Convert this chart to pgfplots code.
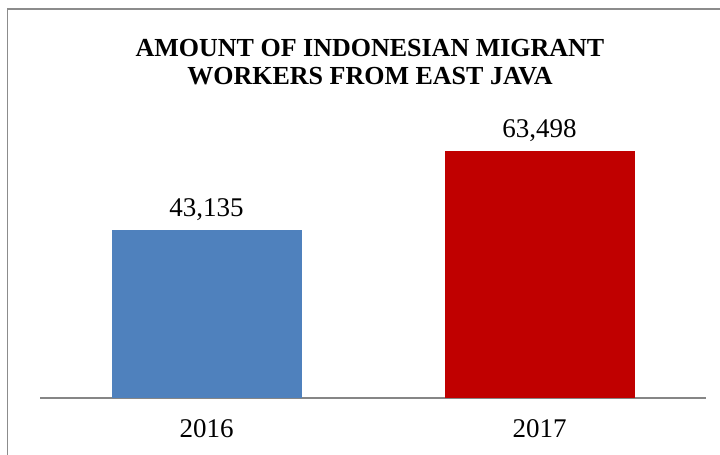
\documentclass[border=0pt]{standalone}
\usepackage{pgfplots}
\pgfplotsset{compat=1.18}
\usepackage{fontspec}
\setmainfont{Liberation Serif}
\newfontfamily\titlefont{Liberation Serif}[UprightFont={* Bold}]
\definecolor{barblue}{HTML}{4F81BD}
\definecolor{barred}{HTML}{C00000}
\definecolor{framegray}{HTML}{8C8C8C}
\definecolor{axisgray}{HTML}{868686}
\begin{document}
\begin{tikzpicture}[x=1pt,y=1pt]
\useasboundingbox (0,0) rectangle (720,455);
\clip (0,0) rectangle (720,455);
\fill[white] (0,0) rectangle (720,455);
% chart frame, cut off on the right and at the bottom
\draw[framegray, line width=1.6pt] (7.5,-20) -- (7.5,446) -- (740,446);
\begin{axis}[
    at={(40pt,57pt)}, anchor=south west,
    scale only axis,
    width=666pt, height=311pt,
    xmin=-0.5, xmax=1.5,
    ymin=0, ymax=80000,
    axis x line*=bottom,
    axis y line=none,
    x axis line style={axisgray, line width=1.5pt, -},
    xtick={0,1},
    xticklabels={2016,2017},
    major tick length=0pt,
    xticklabel style={font=\fontsize{27}{30}\selectfont, yshift=-18pt},
    ybar, bar width=190pt, bar shift=0pt,
    nodes near coords,
    every node near coord/.append style={font=\fontsize{27}{30}\selectfont, yshift=6pt, text=black},
    /pgf/number format/.cd, 1000 sep={,}, assume math mode=true,
]
\addplot[fill=barblue, draw=none] coordinates {(0,43135)};
\addplot[fill=barred, draw=none] coordinates {(1,63498)};
\end{axis}
\node[font=\titlefont\fontsize{26}{28}\selectfont, align=center, anchor=center] at (370,393) {AMOUNT OF INDONESIAN MIGRANT\\WORKERS FROM EAST JAVA};
\end{tikzpicture}
\end{document}
